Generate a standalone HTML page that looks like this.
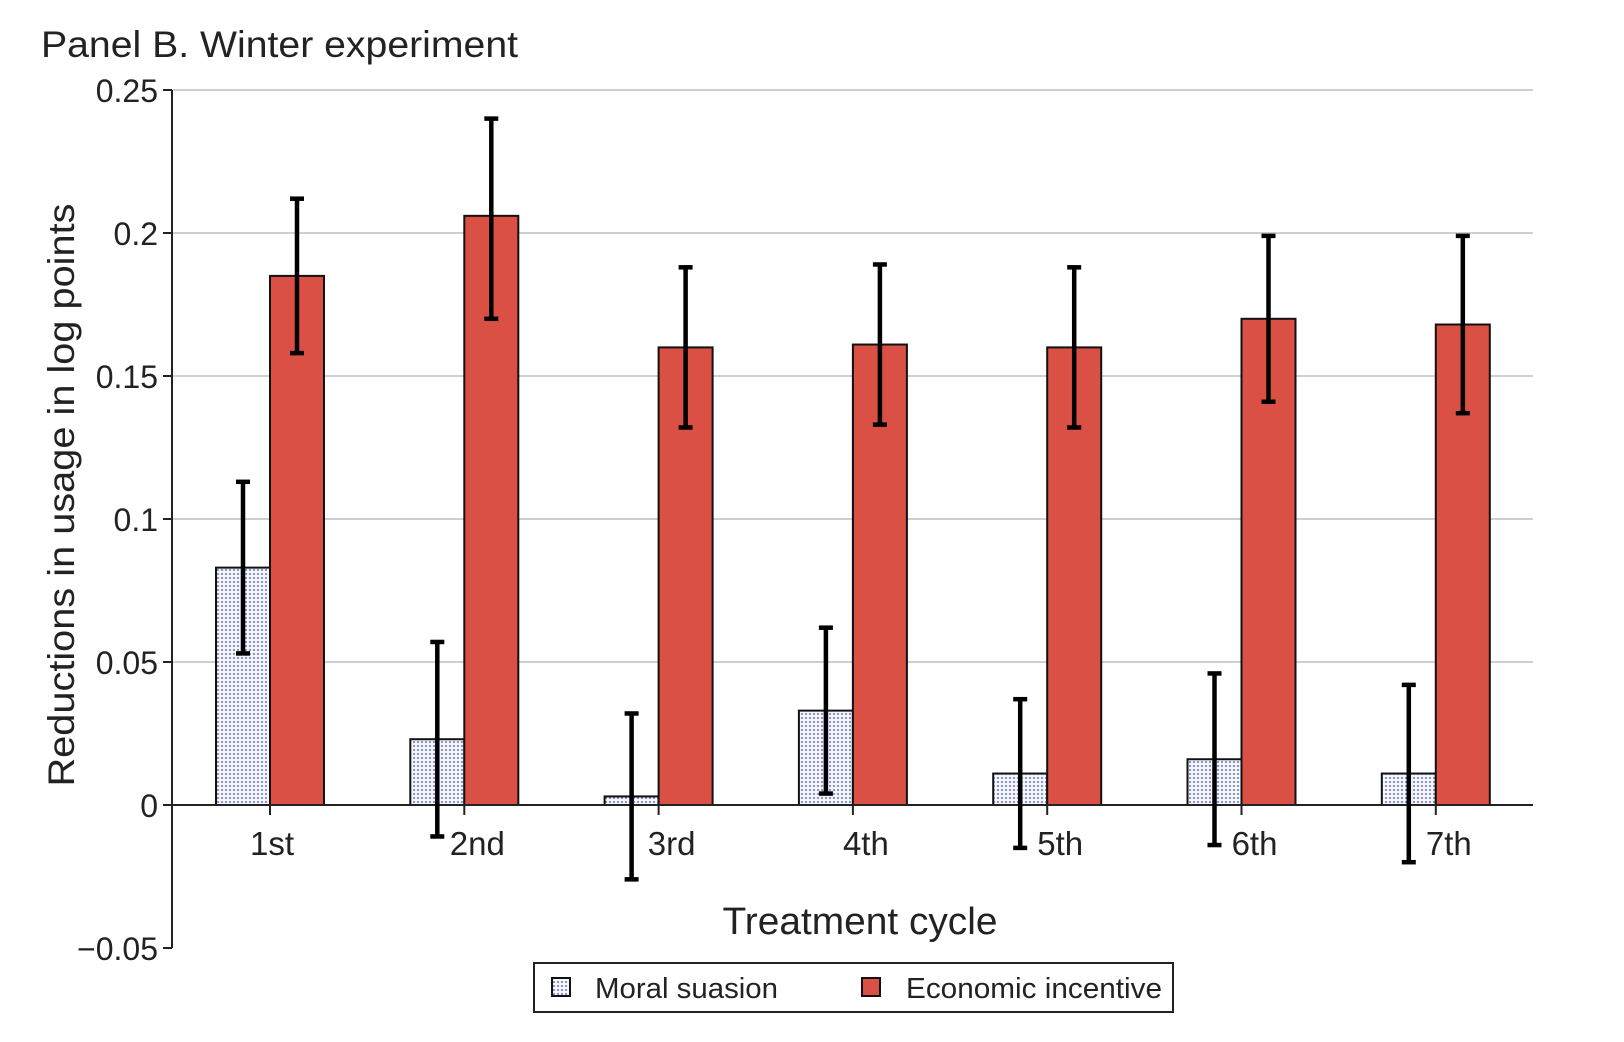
<!DOCTYPE html>
<html><head><meta charset="utf-8"><style>
body{margin:0;background:#fff}
svg{display:block;font-family:"Liberation Sans",Arial,sans-serif}
</style></head><body>
<svg id="chart" width="1624" height="1042" viewBox="0 0 1624 1042">
<defs>
<pattern id="dots" width="4" height="4" patternUnits="userSpaceOnUse">
<rect width="4" height="4" fill="#f4f5fb"/>
<circle cx="2" cy="2" r="0.9" fill="#3d4fa8"/>
</pattern>
</defs>
<text x="41" y="57" font-size="37" fill="#222" textLength="477" lengthAdjust="spacingAndGlyphs">Panel B. Winter experiment</text>
<g id="grid"></g>
<g id="bars"></g>
<g id="axes"></g>
<text x="860" y="934" font-size="38" text-anchor="middle" fill="#222" textLength="275" lengthAdjust="spacingAndGlyphs">Treatment cycle</text>
<text transform="translate(74,495) rotate(-90)" font-size="37" text-anchor="middle" fill="#222" textLength="583" lengthAdjust="spacingAndGlyphs">Reductions in usage in log points</text>
<g>
<rect x="534" y="963" width="639" height="49" fill="#fff" stroke="#222" stroke-width="2"/>
<g>
<rect x="552" y="978" width="18" height="18" fill="url(#dots)" stroke="#111" stroke-width="2"/>
<text x="595" y="998" font-size="29" fill="#222" textLength="183" lengthAdjust="spacingAndGlyphs">Moral suasion</text></g>
<g>
<rect x="862" y="978" width="18" height="18" fill="#db5044" stroke="#111" stroke-width="2"/>
<text x="906" y="998" font-size="29" fill="#222" textLength="256" lengthAdjust="spacingAndGlyphs">Economic incentive</text></g>
</g>
</svg>
<script>
const categories = ["1st","2nd","3rd","4th","5th","6th","7th"];
const moralValues = [0.083,0.023,0.003,0.033,0.011,0.016,0.011];
const moralLow = [0.053,-0.011,-0.026,0.004,-0.015,-0.014,-0.020];
const moralHigh = [0.113,0.057,0.032,0.062,0.037,0.046,0.042];
const econValues = [0.185,0.206,0.160,0.161,0.160,0.170,0.168];
const econLow = [0.158,0.170,0.132,0.133,0.132,0.141,0.137];
const econHigh = [0.212,0.240,0.188,0.189,0.188,0.199,0.199];
const yTicks = [-0.05,0,0.05,0.1,0.15,0.2,0.25];
const yTickLabels = ["\u22120.05","0","0.05","0.1","0.15","0.2","0.25"];

const NS="http://www.w3.org/2000/svg";
const X0=172, X1=1533;
function y(v){return 805 - v*2860;}
function xc(i){return 270 + i*194.3;}
const BW=54;
function mk(tag,attrs,parent){const e=document.createElementNS(NS,tag);for(const k in attrs)e.setAttribute(k,attrs[k]);parent.appendChild(e);return e;}
const grid=document.getElementById('grid'), bars=document.getElementById('bars'), axes=document.getElementById('axes');
yTicks.forEach((t,i)=>{
  if(t>0){const g=mk('line',{x1:X0,x2:X1,y1:y(t),y2:y(t),stroke:'#cfcfcf','stroke-width':2},grid);
  
  }
  const tk=mk('line',{x1:X0-9,x2:X0,y1:y(t),y2:y(t),stroke:'#222','stroke-width':2},axes);
  
  
  const lb=mk('text',{x:X0-14,y:y(t)+12,'font-size':32,'text-anchor':'end',fill:'#222'},axes);
  lb.textContent=yTickLabels[i];
  
  
});
function err(cx,lo,hi){
  const g=mk('g',{stroke:'#000','stroke-width':4.5},bars);
  
  
  mk('line',{x1:cx,x2:cx,y1:y(hi),y2:y(lo)},g);
  mk('line',{x1:cx-7,x2:cx+7,y1:y(hi),y2:y(hi)},g);
  mk('line',{x1:cx-7,x2:cx+7,y1:y(lo),y2:y(lo)},g);
}
categories.forEach((c,i)=>{
  const cx=xc(i);
  const m=mk('rect',{x:cx-BW,y:y(moralValues[i]),width:BW,height:y(0)-y(moralValues[i]),fill:'url(#dots)',stroke:'#111','stroke-width':2},bars);
  
  
  const e=mk('rect',{x:cx,y:y(econValues[i]),width:BW,height:y(0)-y(econValues[i]),fill:'#db5044',stroke:'#111','stroke-width':2},bars);
  
  
});
const xa=mk('line',{x1:X0,x2:X1,y1:y(0),y2:y(0),stroke:'#222','stroke-width':2},bars);


categories.forEach((c,i)=>{
  const cx=xc(i);
  err(cx-BW/2,moralLow[i],moralHigh[i]);
  err(cx+BW/2,econLow[i],econHigh[i]);
  const tk=mk('line',{x1:cx,x2:cx,y1:y(0),y2:y(0)+10,stroke:'#222','stroke-width':2},axes);
  
  
  const lb=mk('text',{x:cx+(i===0?2:13),y:y(0)+50,'font-size':33,'text-anchor':'middle',fill:'#222'},axes);
  lb.textContent=c;
  
  
});
const ya=mk('line',{x1:X0,x2:X0,y1:y(0.25),y2:y(-0.05),stroke:'#222','stroke-width':2},axes);


</script>
</body></html>
